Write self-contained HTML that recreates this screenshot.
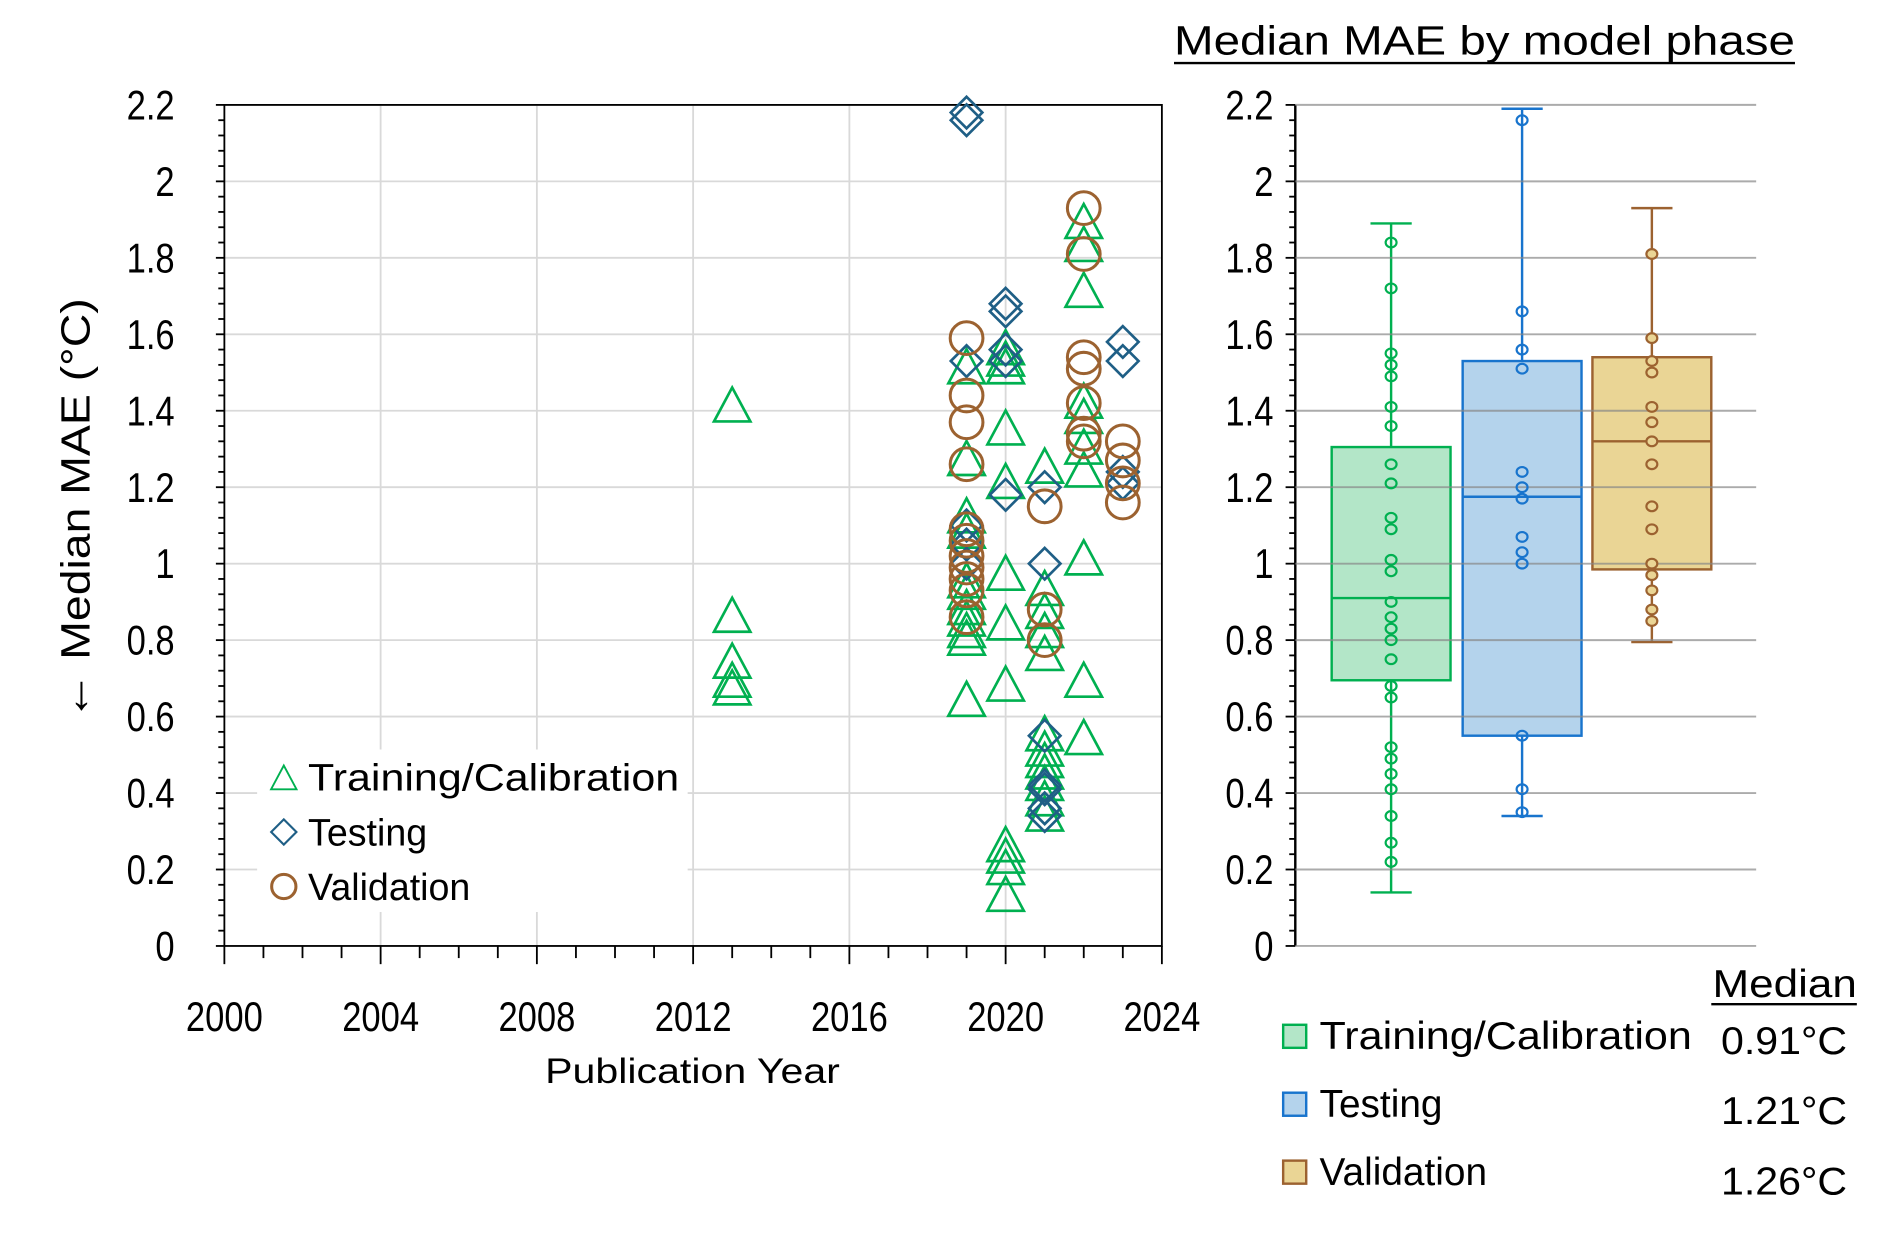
<!DOCTYPE html>
<html><head><meta charset="utf-8"><style>
html,body{margin:0;padding:0;background:#fff;}
svg{display:block;}
text{font-family:"Liberation Sans","DejaVu Sans",sans-serif;fill:#000;}
</style></head><body>
<svg id="chart" width="1892" height="1246" viewBox="0 0 1560 1027.4" preserveAspectRatio="none" xmlns="http://www.w3.org/2000/svg">
<g id="left"></g>
<g id="right"></g>
</svg>
<script>
// ---- Scatter data ----
const trainYears = [2013,2013,2013,2013,2013,
 2019,2019,2019,2019,2019,2019,2019,2019,2019,2019,2019,
 2020,2020,2020,2020,2020,2020,2020,2020,2020,2020,2020,2020,
 2021,2021,2021,2021,2021,2021,2021,2021,2021,2021,2021,2021,
 2022,2022,2022,2022,2022,2022,2022,2022,2022,2022];
const trainValues = [1.41,0.86,0.74,0.69,0.67,
 1.51,1.27,1.12,1.08,0.95,0.92,0.88,0.85,0.82,0.80,0.64,
 1.56,1.53,1.51,1.35,1.21,0.97,0.84,0.68,0.26,0.23,0.20,0.13,
 1.25,0.93,0.87,0.82,0.76,0.55,0.51,0.48,0.45,0.42,0.38,0.34,
 1.89,1.83,1.71,1.42,1.38,1.30,1.24,1.01,0.69,0.54];
const testYears = [2019,2019,2019,2019,2019,2019,2020,2020,2020,2020,2020,2021,2021,2021,2021,2021,2021,2021,2023,2023,2023,2023];
const testValues = [2.18,2.16,1.53,1.10,1.05,1.00,1.68,1.66,1.56,1.53,1.18,1.20,1.00,0.55,0.42,0.41,0.36,0.34,1.58,1.53,1.24,1.21];
const valYears = [2019,2019,2019,2019,2019,2019,2019,2019,2019,2019,2019,2021,2021,2021,2022,2022,2022,2022,2022,2022,2022,2023,2023,2023,2023];
const valValues = [1.59,1.44,1.37,1.26,1.09,1.06,1.02,0.99,0.96,0.93,0.86,1.15,0.88,0.80,1.93,1.81,1.54,1.51,1.42,1.34,1.32,1.32,1.27,1.21,1.16];
const xTickLabels = ["2000","2004","2008","2012","2016","2020","2024"];
const yTickLabels = ["0","0.2","0.4","0.6","0.8","1","1.2","1.4","1.6","1.8","2","2.2"];
// ---- Box data ----
const phases = ["Training/Calibration","Testing","Validation"];
const boxMin = [0.14,0.34,0.795];
const boxQ1 = [0.695,0.55,0.985];
const boxMedian = [0.91,1.175,1.32];
const boxQ3 = [1.305,1.53,1.54];
const boxMax = [1.89,2.19,1.93];
const medianLabels = ["0.91°C","1.21°C","1.26°C"];
const trainDots = [0.22,0.27,0.34,0.41,0.45,0.49,0.52,0.65,0.68,0.75,0.80,0.83,0.86,0.90,0.98,1.01,1.09,1.12,1.21,1.26,1.36,1.41,1.49,1.52,1.55,1.72,1.84];
const testDots = [0.35,0.41,0.55,1.0,1.03,1.07,1.17,1.20,1.24,1.51,1.56,1.66,2.16];
const valDots = [0.85,0.88,0.93,0.97,1.0,1.09,1.15,1.26,1.32,1.37,1.41,1.50,1.53,1.59,1.81];

const NS="http://www.w3.org/2000/svg";
function mk(tag, attrs, parent){const e=document.createElementNS(NS,tag);for(const k in attrs)e.setAttribute(k,attrs[k]);parent.appendChild(e);return e;}
const L=document.getElementById('left'), R=document.getElementById('right');
const y=v=>780-v*(780-86.5)/2.2;
const x=yr=>185+(yr-2000)*(958-185)/24;
const GREEN="#00b050", BLUE="#1f5f86", BROWN="#9c6230";

function tickText(p,tx,ty,t,anchor,name){
 const e=mk('text',{x:0,y:0,'font-size':30,'text-anchor':anchor,transform:`translate(${tx} ${ty}) scale(0.95 1.15)`},p);
 e.textContent=t;
 
 
 return e;
}

yTickLabels.forEach((t,i)=>{ if(i>0){const g=mk('line',{x1:185,x2:958,y1:y(i*0.2),y2:y(i*0.2),stroke:'#d9d9d9','stroke-width':1.5},L);

}});
xTickLabels.forEach((t,i)=>{ if(i>0&&i<6){const g=mk('line',{x1:x(2000+4*i),x2:x(2000+4*i),y1:86.5,y2:780,stroke:'#d9d9d9','stroke-width':1.5},L);

}});
const fr=mk('rect',{x:185,y:86.5,width:773,height:693.5,fill:'none',stroke:'#000','stroke-width':1.5},L);


for(let k=0;k<=55;k++){const v=k*0.04;const maj=(k%5===0);
 mk('line',{x1:maj?178:180,x2:185,y1:y(v),y2:y(v),stroke:'#000','stroke-width':1.5},L);}
for(let yr=2000;yr<=2024;yr++){const maj=(yr%4===0);
 mk('line',{x1:x(yr),x2:x(yr),y1:780,y2:maj?795:790,stroke:'#000','stroke-width':1.5},L);}
yTickLabels.forEach((t,i)=>{tickText(L,144,y(i*0.2)+12,t,'end','y-tick-label');});
xTickLabels.forEach((t,i)=>{tickText(L,x(2000+4*i),850,t,'middle','x-tick-label');});
const xt=mk('text',{x:571,y:893,'font-size':29,'text-anchor':'middle',textLength:243,lengthAdjust:'spacingAndGlyphs'},L);xt.textContent='Publication Year';


const yt=mk('text',{x:0,y:0,'font-size':34,'text-anchor':'middle',transform:'translate(74,395) rotate(-90)',textLength:298,lengthAdjust:'spacingAndGlyphs'},L);yt.textContent='Median MAE (°C)';


const ya=mk('text',{x:0,y:0,'font-size':40,'text-anchor':'middle',transform:'translate(74,574) rotate(-90)','font-family':'"Noto Sans CJK JP", "DejaVu Sans", sans-serif'},L);ya.textContent='←';



function tri(cx,cy,s,col,p){return mk('polygon',{points:`${cx},${cy-16} ${cx-15},${cy+12} ${cx+15},${cy+12}`,fill:'none',stroke:col,'stroke-width':s},p);}
function dia(cx,cy,s,col,p){return mk('polygon',{points:`${cx},${cy-13} ${cx+13},${cy} ${cx},${cy+13} ${cx-13},${cy}`,fill:'none',stroke:col,'stroke-width':s},p);}
function circ(cx,cy,s,col,p){return mk('circle',{cx:cx,cy:cy,r:13.5,fill:'none',stroke:col,'stroke-width':s},p);}
trainValues.forEach((v,i)=>{const e=tri(x(trainYears[i]),y(v),2.2,GREEN,L);

});
testValues.forEach((v,i)=>{const e=dia(x(testYears[i]),y(v),2.2,BLUE,L);

});
valValues.forEach((v,i)=>{const e=circ(x(valYears[i]),y(v),2.5,BROWN,L);

});

const lg=mk('g',{},L);


mk('rect',{x:212,y:618,width:355,height:134,fill:'#fff'},lg);
const legY=[641,686,731];
tri(234,legY[0]+2,2.2,GREEN,lg).setAttribute('transform',`translate(234 ${legY[0]}) scale(0.7) translate(-234 -${legY[0]})`);
dia(234,legY[1],2.2,BLUE,lg).setAttribute('transform',`translate(234 ${legY[1]}) scale(0.8) translate(-234 -${legY[1]})`);
circ(234,legY[2],2.5,BROWN,lg).setAttribute('r',10);
["Training/Calibration","Testing","Validation"].forEach((t,i)=>{const e=mk('text',{x:254,y:legY[i]+11,'font-size':31},lg);
if(i===0){e.setAttribute('textLength',306);e.setAttribute('lengthAdjust','spacingAndGlyphs');}
e.textContent=t;

});

const ttl=mk('text',{x:968,y:45,'font-size':34,textLength:512,lengthAdjust:'spacingAndGlyphs'},R);ttl.textContent='Median MAE by model phase';


mk('line',{x1:968,x2:1480,y1:52,y2:52,stroke:'#000','stroke-width':2},R);
yTickLabels.forEach((t,i)=>{tickText(R,1050,y(i*0.2)+12,t,'end','box-y-tick-label');});
for(let k=0;k<=55;k++){const v=k*0.04;const maj=(k%5===0);
 mk('line',{x1:maj?1060:1063,x2:1068,y1:y(v),y2:y(v),stroke:'#000','stroke-width':1.5},R);}
mk('line',{x1:1068,x2:1068,y1:86.5,y2:780,stroke:'#000','stroke-width':2},R);
const cols=["#00b050","#1874cd","#9c6230"], fills=["#b3e6c8","#b4d3ec","#ead595"];
const cx=[1147,1255,1362], hw=49;
phases.forEach((p,i)=>{
 const g=mk('g',{},R);
 
 
 mk('line',{x1:cx[i],x2:cx[i],y1:y(boxMax[i]),y2:y(boxMin[i]),stroke:cols[i],'stroke-width':2},g);
 mk('line',{x1:cx[i]-17,x2:cx[i]+17,y1:y(boxMax[i]),y2:y(boxMax[i]),stroke:cols[i],'stroke-width':2},g);
 mk('line',{x1:cx[i]-17,x2:cx[i]+17,y1:y(boxMin[i]),y2:y(boxMin[i]),stroke:cols[i],'stroke-width':2},g);
 mk('rect',{x:cx[i]-hw,y:y(boxQ3[i]),width:2*hw,height:y(boxQ1[i])-y(boxQ3[i]),fill:fills[i],stroke:cols[i],'stroke-width':2},g);
 mk('line',{x1:cx[i]-hw,x2:cx[i]+hw,y1:y(boxMedian[i]),y2:y(boxMedian[i]),stroke:cols[i],'stroke-width':2},g);
});
yTickLabels.forEach((t,i)=>{const g=mk('line',{x1:1068,x2:1448,y1:y(i*0.2),y2:y(i*0.2),stroke:'#888','stroke-width':1.6,'stroke-opacity':0.7},R);

});
[trainDots,testDots,valDots].forEach((arr,i)=>{arr.forEach(v=>{const d=mk('ellipse',{cx:cx[i],cy:y(v),rx:4.5,ry:4,fill:i===2?fills[2]:'none',stroke:cols[i],'stroke-width':1.8},R);

});});

const mh=mk('text',{x:1412,y:822,'font-size':32,textLength:119,lengthAdjust:'spacingAndGlyphs'},R);mh.textContent='Median';


mk('line',{x1:1411,x2:1531,y1:828,y2:828,stroke:'#000','stroke-width':2},R);
const ry=[854,910,966];
phases.forEach((p,i)=>{
 const s=mk('rect',{x:1058,y:ry[i]-9,width:19,height:19,fill:fills[i],stroke:cols[i],'stroke-width':2},R);
 
 
 const t=mk('text',{x:1088,y:ry[i]+11,'font-size':32},R);
 if(i===0){t.setAttribute('textLength',307);t.setAttribute('lengthAdjust','spacingAndGlyphs');}
 t.textContent=p;
 
 
 const m=mk('text',{x:1523,y:ry[i]+15+i*2,'font-size':32,'text-anchor':'end',textLength:104,lengthAdjust:'spacingAndGlyphs'},R);m.textContent=medianLabels[i];
 
 
});
</script>
</body></html>
